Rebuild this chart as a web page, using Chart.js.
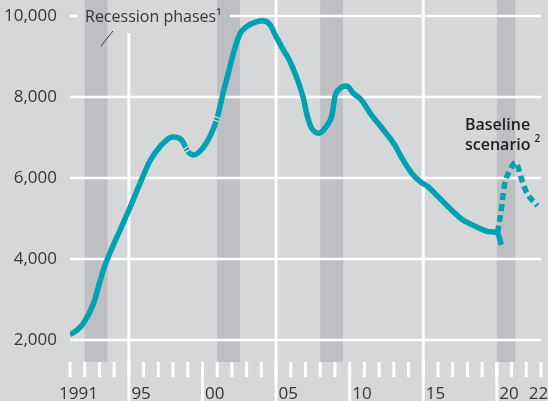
<!DOCTYPE html>
<html><head><meta charset="utf-8">
<script src="https://cdn.jsdelivr.net/npm/chart.js@4.4.1/dist/chart.umd.min.js"></script>
<style>html,body{margin:0;padding:0;background:#d6d7d9;overflow:hidden}#wrap{width:548px;height:401px;position:relative}</style>
</head><body><div id="wrap"><canvas id="c" width="548" height="401"></canvas></div>
<script>
const solidYears = [1991.0,1991.5,1991.9,1992.6,1993.0,1993.26,1993.7,1994.0,1994.4,1995.1,1995.75,1996.4,1997.1,1998.0,1998.6,1999.0,1999.4,1999.8,2000.5,2001.0,2001.4,2001.75,2002.1,2002.55,2003.0,2003.7,2004.1,2004.6,2005.0,2005.5,2005.9,2006.4,2006.85,2007.1,2007.4,2007.9,2008.4,2008.8,2009.0,2009.34,2009.8,2010.25,2010.8,2011.4,2012.3,2013.0,2013.6,2014.3,2014.8,2015.3,2015.9,2016.8,2017.7,2018.6,2019.5,2020.05,2020.3];
const solidValues = [2130,2250,2410,2900,3400,3720,4140,4390,4716,5290,5860,6400,6770,7010,6930,6660,6570,6650,7020,7480,8092,8585,9079,9560,9736,9859,9884,9778,9490,9160,8914,8480,7980,7560,7240,7105,7267,7556,8008,8214,8272,8092,7926,7597,7185,6850,6460,6080,5910,5790,5580,5251,4963,4798,4675,4640,4350];
const scenarioYears = [2020.05,2020.3,2020.5,2020.9,2021.28,2021.7,2022.0,2022.75];
const scenarioValues = [4650,5210,5790,6200,6380,5950,5660,5310];
const recessionStart = [1992.0, 2001.0, 2008.0, 2020.0];
const recessionEnd = [1993.55, 2002.55, 2009.55, 2021.25];
const yTicks = [2000, 4000, 6000, 8000, 10000];
const yTickLabels = ['2,000', '4,000', '6,000', '8,000', '10,000'];
const xTickYears = [1991,1992,1993,1994,1995,1996,1997,1998,1999,2000,2001,2002,2003,2004,2005,2006,2007,2008,2009,2010,2011,2012,2013,2014,2015,2016,2017,2018,2019,2020,2021,2022,2023];
const xLabelYears = [1991, 1995, 2000, 2005, 2010, 2015, 2020, 2022];
const xLabels = ['1991', '95', '00', '05', '10', '15', '20', '22'];
const gridYears = [1995, 2005, 2015];
const majorTickYears = [2000, 2010, 2020];
const breakYears = [1998.93, 2000.97];

const BG = '#d6d7d9', BAND = '#bebfc3', TEAL = '#00a2b1', TXT = '#363636';

function interp(xs, ys, x) {
  for (let i = 0; i < xs.length - 1; i++) {
    if (x >= xs[i] && x <= xs[i+1]) {
      const t = (x - xs[i]) / (xs[i+1] - xs[i]);
      return ys[i] + t * (ys[i+1] - ys[i]);
    }
  }
  return ys[ys.length - 1];
}

const decor = {
  id: 'decor',
  beforeDraw(chart) {
    const ctx = chart.ctx, a = chart.chartArea;
    const xs = chart.scales.x, ys = chart.scales.y;
    ctx.save();
    ctx.fillStyle = BG;
    ctx.fillRect(0, 0, chart.width, chart.height);
    ctx.fillStyle = BAND;
    recessionStart.forEach((s, i) => {
      const x0 = xs.getPixelForValue(s), x1 = xs.getPixelForValue(recessionEnd[i]);
      ctx.fillRect(x0, a.top, x1 - x0, a.bottom - a.top);
    });
    ctx.strokeStyle = '#ffffff';
    ctx.lineWidth = 2.6;
    yTicks.forEach(v => {
      const y = ys.getPixelForValue(v);
      ctx.beginPath();
      if (v === 10000) {
        ctx.moveTo(a.left, y); ctx.lineTo(a.left + 8, y);
        ctx.moveTo(230, y); ctx.lineTo(a.right, y);
      } else {
        ctx.moveTo(a.left, y); ctx.lineTo(a.right, y);
      }
      ctx.stroke();
    });
    ctx.lineWidth = 3;
    xTickYears.forEach(yr => {
      const x = xs.getPixelForValue(yr);
      ctx.beginPath(); ctx.moveTo(x, a.bottom); ctx.lineTo(x, a.bottom + 15); ctx.stroke();
    });
    majorTickYears.forEach(yr => {
      const x = xs.getPixelForValue(yr);
      ctx.beginPath(); ctx.moveTo(x, a.bottom); ctx.lineTo(x, chart.height); ctx.stroke();
    });
    gridYears.forEach(yr => {
      const x = xs.getPixelForValue(yr);
      ctx.beginPath(); ctx.moveTo(x, yr === 1995 ? 33 : 0); ctx.lineTo(x, chart.height); ctx.stroke();
    });
    ctx.restore();
  },
  afterDatasetsDraw(chart) {
    const ctx = chart.ctx;
    const xs = chart.scales.x, ys = chart.scales.y;
    ctx.save();
    ctx.strokeStyle = BG;
    ctx.lineWidth = 1.4;
    breakYears.forEach(yr => {
      const px = (t) => [xs.getPixelForValue(t), ys.getPixelForValue(interp(solidYears, solidValues, t))];
      const p = px(yr), p0 = px(yr - 0.12), p1 = px(yr + 0.12);
      let dx = p1[0] - p0[0], dy = p1[1] - p0[1];
      const L = Math.hypot(dx, dy); dx /= L; dy /= L;
      const nx = -dy, ny = dx;
      [-1.7, 1.7].forEach(o => {
        const cx = p[0] + dx * o, cy = p[1] + dy * o;
        ctx.beginPath();
        ctx.moveTo(cx - nx * 4.5, cy - ny * 4.5);
        ctx.lineTo(cx + nx * 4.5, cy + ny * 4.5);
        ctx.stroke();
      });
    });
    ctx.restore();
  },
  afterDraw(chart) {
    const ctx = chart.ctx, xs = chart.scales.x;
    ctx.save();
    ctx.fillStyle = TXT;
    ctx.font = '17px "Open Sans"';
    ctx.textAlign = 'left';
    ctx.textBaseline = 'alphabetic';
    xLabelYears.forEach((yr, i) => {
      const x = xs.getPixelForValue(yr);
      ctx.fillText(xLabels[i], yr === 1991 ? x - 11 : x + 2.5, 399);
    });
    ctx.font = '16px "Open Sans"';
    ctx.fillText('Recession phases\u00B9', 85, 22);
    ctx.strokeStyle = TXT; ctx.lineWidth = 1;
    ctx.beginPath(); ctx.moveTo(101, 46); ctx.lineTo(113, 31); ctx.stroke();
    ctx.fillStyle = '#1e1e1e';
    ctx.font = '600 16px "Open Sans"';
    ctx.fillText('Baseline', 465, 130);
    ctx.fillText('scenario', 465, 150);
    const w = ctx.measureText('scenario').width;
    ctx.font = '600 10px "Open Sans"';
    ctx.fillText('2', 465 + w + 4, 142);
    ctx.restore();
  }
};

new Chart(document.getElementById('c'), {
  type: 'line',
  data: {
    datasets: [
      { data: solidYears.map((x, i) => ({ x, y: solidValues[i] })), borderColor: TEAL, borderWidth: 5.5,
        pointRadius: 0, fill: false, cubicInterpolationMode: 'monotone', borderCapStyle: 'butt', borderJoinStyle: 'round' },
      { data: scenarioYears.map((x, i) => ({ x, y: scenarioValues[i] })), borderColor: TEAL, borderWidth: 5.5,
        pointRadius: 0, fill: false, cubicInterpolationMode: 'monotone', borderDash: [7, 4], borderCapStyle: 'butt' }
    ]
  },
  options: {
    responsive: false, animation: false, devicePixelRatio: 1,
    layout: { padding: { left: 0, right: 7, top: 0, bottom: 39 } },
    plugins: { legend: { display: false }, tooltip: { enabled: false } },
    scales: {
      x: { type: 'linear', min: 1991, max: 2023, display: false },
      y: {
        min: 1457, max: 10395,
        afterFit: s => { s.width = 70; s.paddingTop = 0; s.paddingBottom = 0; },
        afterBuildTicks: s => { s.ticks = yTicks.map(v => ({ value: v })); },
        ticks: { callback: v => yTickLabels[yTicks.indexOf(v)], padding: 13, color: TXT, autoSkip: false,
                 font: { family: 'Open Sans', size: 17 } },
        grid: { display: false, drawTicks: false },
        border: { display: false }
      }
    }
  },
  plugins: [decor]
});
</script></body></html>
